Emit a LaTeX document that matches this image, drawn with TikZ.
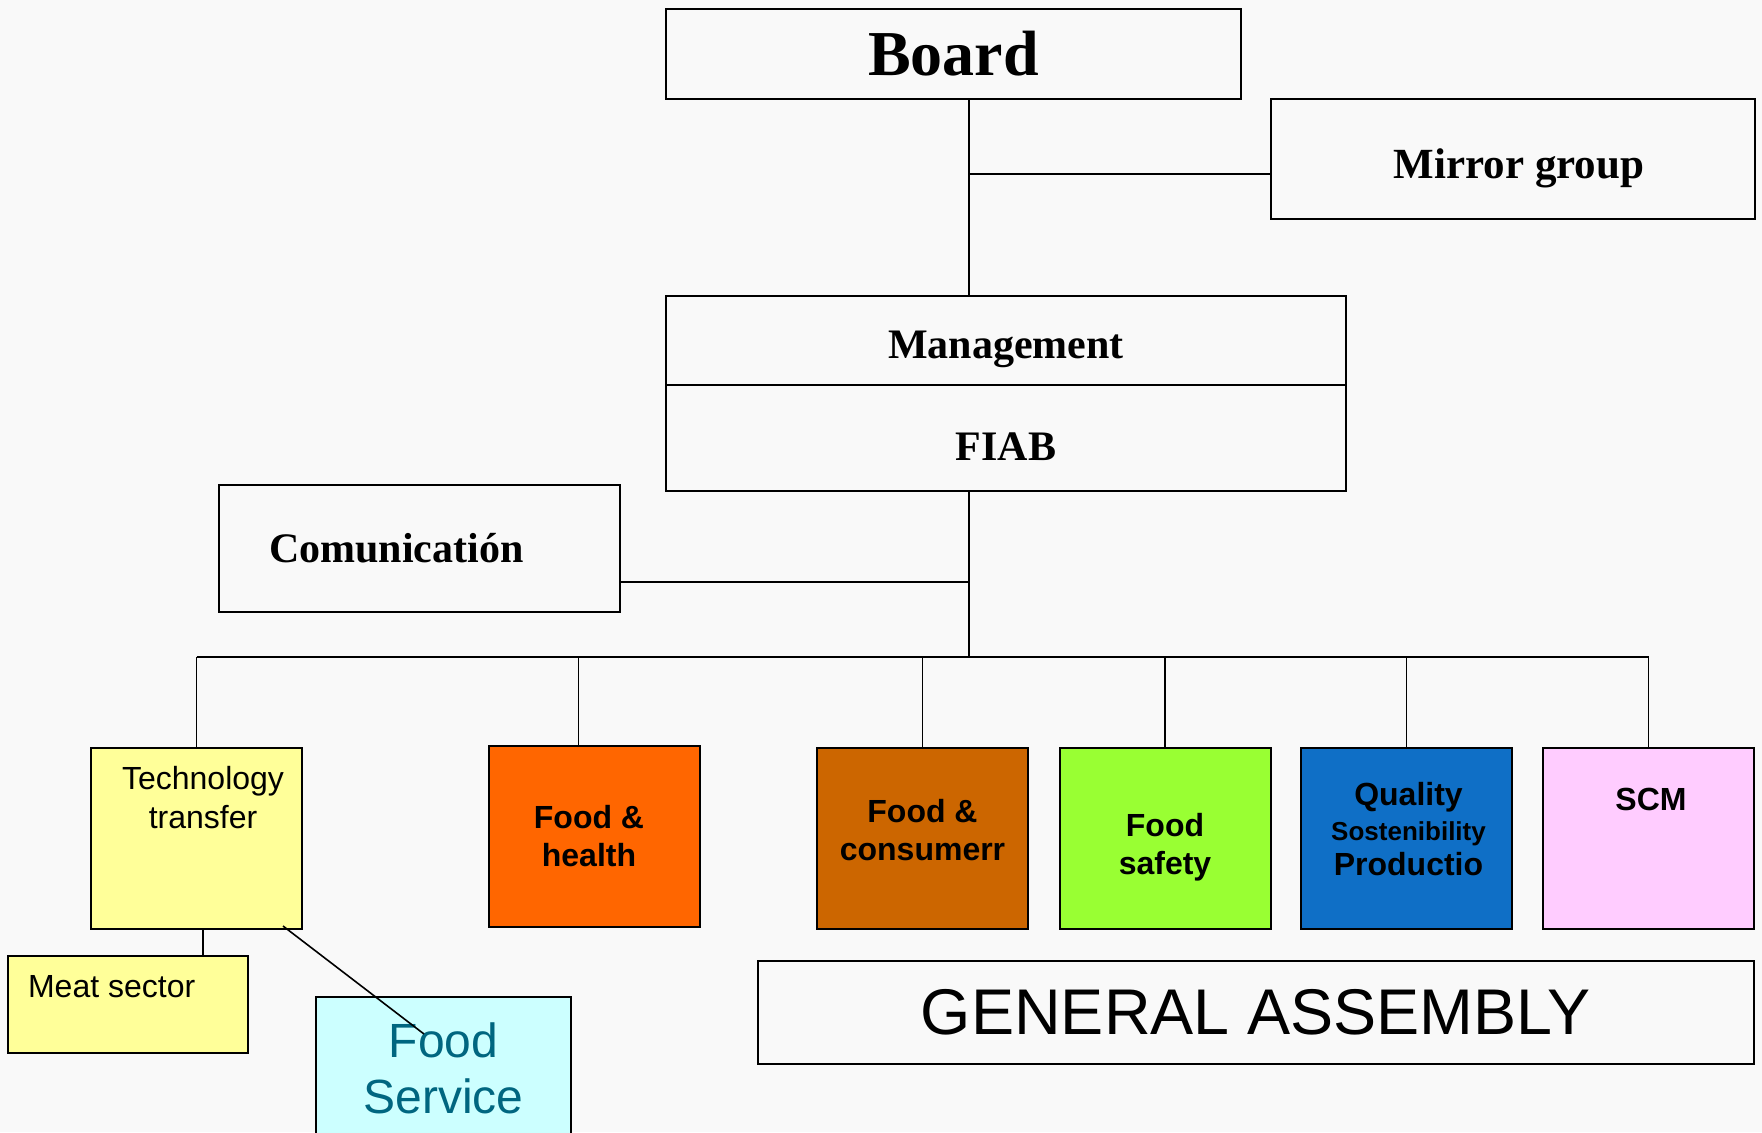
\documentclass[tikz,border=0pt]{standalone}
\usepackage{fontspec}
\setmainfont{Liberation Serif}
\setsansfont{Liberation Sans}
\usetikzlibrary{positioning,calc}

\definecolor{paper}{HTML}{F9F9F9}
\definecolor{techyellow}{HTML}{FFFF99}
\definecolor{healthorange}{HTML}{FF6600}
\definecolor{consumerbrown}{HTML}{CC6600}
\definecolor{safetygreen}{HTML}{99FF33}
\definecolor{qualityblue}{HTML}{0F6FC6}
\definecolor{scmpink}{HTML}{FFCCFF}
\definecolor{servicecyan}{HTML}{CCFFFF}
\definecolor{serviceteal}{HTML}{006680}

\begin{document}
\begin{tikzpicture}[x=0.5pt, y=-0.5pt,
    headbox/.style={draw, line width=1pt, inner sep=0pt},
    headtxt/.style={font=\bfseries\fontsize{21}{25}\selectfont},
    unitbox/.style={draw, line width=1pt, inner sep=0pt, minimum width=105.5pt, minimum height=90.5pt},
    unittxt/.style={align=center, font=\sffamily\bfseries\fontsize{16}{19}\selectfont},
    link/.style={line width=0.8pt}]
  % Page frame
  \useasboundingbox[fill=paper] (0,0) rectangle (1762,1132);

  % Top level
  \node[headbox, minimum width=287.5pt, minimum height=45pt, font=\bfseries\fontsize{32}{36}\selectfont] (board) at (953.5,54) {Board};
  \node[headbox, minimum width=242pt, minimum height=60pt] (mirror) at (1513,159) {};
  \node[headtxt, font=\bfseries\fontsize{21.5}{25}\selectfont] (mirror-txt) at ([shift={(3pt,-4.5pt)}]mirror.center) {Mirror group};
  \node[headbox, minimum width=340pt, minimum height=44.5pt] (mgmt) at (1006,340.5) {};
  \node[headtxt] (mgmt-txt) at ([yshift=-4.5pt]mgmt.center) {Management};
  \node[headbox, minimum width=340pt, minimum height=53pt, below=-1pt of mgmt] (fiab) {};
  \node[headtxt] (fiab-txt) at ([yshift=-4.5pt]fiab.center) {FIAB};
  \node[headbox, minimum width=200.5pt, minimum height=63.5pt] (comm) at (419.5,548.5) {};
  \node[headtxt, anchor=west] (comm-txt) at ([xshift=22pt]comm.west) {Comunicatión};

  % Working groups
  \node[unitbox, fill=techyellow] (tech) at (196.5,838.5) {};
  \node[unittxt, font=\sffamily\fontsize{16}{19.5}\selectfont] (tech-txt) at ([shift={(3.25pt,-25.25pt)}]tech.north) {Technology\\transfer};
  \node[unitbox, fill=healthorange] (health) at (594,836.5) {};
  \node[unittxt] (health-txt) at ([xshift=-2.5pt]health.center) {Food \&\\health};
  \node[unitbox, fill=consumerbrown] (consumer) at (922.5,838.5) {};
  \node[unittxt] (consumer-txt) at ([yshift=4pt]consumer.center) {Food \&\\consumerr};
  \node[unitbox, fill=safetygreen] (safety) at (1165,838.5) {};
  \node[unittxt] (safety-txt) at ([yshift=-4.5pt]safety.center) {Food\\safety};
  \node[unitbox, fill=qualityblue] (quality) at (1406.5,838.5) {};
  \node[unittxt, font=\sffamily\bfseries\fontsize{16}{17.5}\selectfont] (quality-txt) at ([shift={(1pt,4.5pt)}]quality.center) {Quality\\{\fontsize{13}{16}\selectfont Sostenibility}\\Productio};
  \node[unitbox, fill=scmpink] (scm) at (1648.5,838.5) {};
  \node[unittxt] (scm-txt) at ([shift={(1.25pt,-26pt)}]scm.north) {SCM};

  % Lower row
  \node[draw, line width=1pt, minimum width=498pt, minimum height=51.5pt, font=\sffamily\fontsize{32.3}{36}\selectfont] (assembly) at (1256,1012.5) {GENERAL ASSEMBLY};
  \node[draw, line width=1pt, fill=techyellow, minimum width=120pt, minimum height=48.5pt] (meat) at (128,1004.5) {};
  \node[anchor=west, font=\sffamily\fontsize{16}{19}\selectfont] (meat-txt) at ([shift={(7pt,-16pt)}]meat.north west) {Meat sector};
  \node[draw, line width=1pt, fill=servicecyan, minimum width=127.5pt, minimum height=71.5pt, align=center,
    text=serviceteal, font=\sffamily\fontsize{24}{28}\selectfont] (service) at (443.5,1068.5) {Food\\Service};

  % Connectors
  \coordinate (spine) at (969,0);
  \coordinate (bus) at (0,657);
  \draw[link] (board.south -| spine) -- (mgmt.north -| spine);
  \draw[link] ([yshift=-7.5pt]mirror.west) -- ([yshift=-7.5pt]mirror.west -| spine);
  \draw[link] (fiab.south -| spine) -- (bus -| spine);
  \draw[link] ([yshift=-16.75pt]comm.east) -- ([yshift=-16.75pt]comm.east -| spine);
  \draw[link] (tech.north |- bus) -- (scm.north |- bus);
  \foreach \unit in {tech,consumer,safety,quality,scm}
    \draw[link] (\unit.north) -- (\unit.north |- bus);
  \draw[link] ([xshift=-7.75pt]health.north) -- ([xshift=-7.75pt]health.north |- bus);
  \draw[link] ([xshift=3.25pt]tech.south) -- ([xshift=3.25pt]tech.south |- meat.north);
  \draw[link] ([shift={(-10pt,2pt)}]tech.south east) -- ([shift={(54.5pt,-19pt)}]service.north west);
\end{tikzpicture}
\end{document}
